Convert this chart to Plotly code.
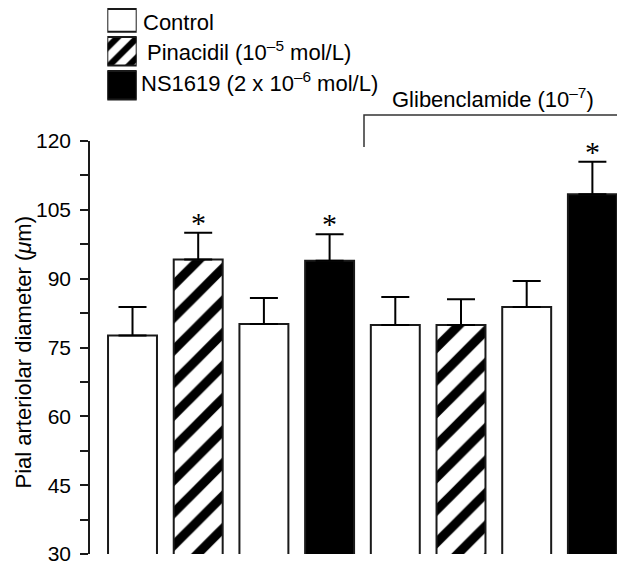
import plotly.graph_objects as go

# values (mean + SEM, um)
treatments = ["Control", "Pinacidil", "Control", "NS1619",
              "Control", "Pinacidil", "Control", "NS1619"]
glibenclamide = [False, False, False, False, True, True, True, True]
diameter_mean = [77.6, 94.2, 80.1, 93.9, 79.9, 79.9, 83.8, 108.4]
diameter_sem = [6.2, 5.8, 5.7, 5.8, 6.1, 5.6, 5.7, 7.1]
significant = [False, True, False, True, False, False, False, True]

legend_keys = ["Control", "Pinacidil", "NS1619"]
legend_labels = ["Control", "Pinacidil (10<sup>–5</sup> mol/L)",
                 "NS1619 (2 x 10<sup>–6</sup> mol/L)"]

y_tickvals = [30, 45, 60, 75, 90, 105, 120]
y_minor_step = 7.5

# style per treatment
fill = {"Control": "white", "Pinacidil": "white", "NS1619": "black"}
hatch = {"Control": "", "Pinacidil": "/", "NS1619": ""}

FONT = "Liberation Sans, Arial, sans-serif"
OFF = 8  # page body margin
W, H = 625 - OFF, 569 - OFF
L, R, T, B = 90 - OFF, 6, 0, 15
PW, PH = W - L - R, H - T - B


# positions given in screen pixels -> paper
def px(x):
    return (x - OFF - L) / PW


def py(y):
    return (H - B - (y - OFF)) / PH


fig = go.Figure()

# one trace per treatment so each gets a plain colour + its hatch
for t in legend_keys:
    sel = [i for i, tt in enumerate(treatments) if tt == t]
    fig.add_trace(go.Bar(
        x=sel, y=[diameter_mean[i] for i in sel], width=0.745, name=t,
        marker=dict(color=fill[t], line=dict(color="#1a1a1a", width=2),
                    pattern=dict(shape=hatch[t], fgcolor="black", bgcolor="white",
                                 fgopacity=1, size=23, solidity=0.4)),
        error_y=dict(type="data", symmetric=False,
                     array=[diameter_sem[i] for i in sel],
                     arrayminus=[0] * len(sel),
                     color="black", thickness=2, width=14),
        showlegend=False,
    ))

# legend key boxes on their own small axes (rows 33.9 px apart)
row_px = 33.9
span = (102.2 - OFF) / row_px
top_row = (OFF + 1 - 17.5) / row_px  # first box is cut by the page edge
for n, k in enumerate(legend_keys):
    w, o = (0.42 - top_row, top_row) if n == 0 else (0.84, -0.42)
    fig.add_trace(go.Bar(
        x=[1], y=[k], orientation="h", width=w, offset=o, base=0,
        xaxis="x2", yaxis="y2", cliponaxis=False,
        marker=dict(color=fill[k], line=dict(color="#1a1a1a", width=2),
                    pattern=dict(shape=hatch[k], fgcolor="black", bgcolor="white",
                                 fgopacity=1, size=14, solidity=0.45)),
        showlegend=False,
    ))

# asterisks
for i, s in enumerate(significant):
    if s:
        fig.add_annotation(x=i, y=diameter_mean[i] + diameter_sem[i], text="*",
                           showarrow=False, yanchor="bottom", yshift=-8,
                           font=dict(family="Liberation Serif, Times New Roman", size=30, color="black"))

# legend text
legend_x = [141, 144.5, 139]
legend_y = [17.5, 51, 82]
for n, (lab, lx, ly) in enumerate(zip(legend_labels, legend_x, legend_y)):
    if n == 0:
        fig.add_annotation(x=px(lx), y=1, xref="paper", yref="paper", text=lab,
                           showarrow=False, xanchor="left", yanchor="top",
                           font=dict(family=FONT, size=22, color="black"))
    else:
        fig.add_annotation(x=px(lx), y=py(ly), xref="paper", yref="paper", text=lab,
                           showarrow=False, xanchor="left", yanchor="middle",
                           font=dict(family=FONT, size=22, color="black"))

# glibenclamide bracket
fig.add_shape(type="path", xref="paper", yref="paper",
              path=f"M {px(364)},{py(147)} L {px(364)},{py(115)} L {px(619)},{py(115)} L {px(619)},{py(147)}",
              line=dict(color="#333333", width=1.5))
fig.add_annotation(x=px(493), y=py(98), xref="paper", yref="paper",
                   text="Glibenclamide (10<sup>–7</sup>)", showarrow=False,
                   xanchor="center", yanchor="middle",
                   font=dict(family=FONT, size=22, color="black"))

# y axis title
fig.add_annotation(x=px(OFF), y=py(353), xref="paper", yref="paper",
                   text="Pial arteriolar diameter (<i>μ</i>m)", textangle=-90,
                   showarrow=False, xanchor="left", yanchor="middle",
                   font=dict(family=FONT, size=22, color="black"))

fig.update_layout(
    width=W, height=H, barmode="overlay",
    margin=dict(l=L, r=R, t=T, b=B, autoexpand=False),
    plot_bgcolor="white", paper_bgcolor="white",
    font=dict(family=FONT, color="black"),
    xaxis=dict(range=[-0.647, 7.405], showticklabels=False, ticks="",
               showgrid=False, zeroline=False, showline=False, automargin=False),
    yaxis=dict(domain=[0, py(141)], range=[30, 120],
               tickvals=y_tickvals,
               ticks="outside", ticklen=8, tickwidth=1.5, tickcolor="#1a1a1a",
               minor=dict(tick0=30, dtick=y_minor_step, ticks="outside", ticklen=8,
                          tickwidth=1.5, tickcolor="#1a1a1a", showgrid=False),
               showline=True, linecolor="#1a1a1a", linewidth=1.5,
               showgrid=False, zeroline=False, automargin=False,
               ticklabelstandoff=5,
               tickfont=dict(size=21, color="black")),
    xaxis2=dict(domain=[px(107.3), px(136.7)], range=[0, 1], anchor="y2",
                visible=False),
    yaxis2=dict(domain=[py(102.2), 1], range=[2.5, 2.5 - span], anchor="x2",
                visible=False),
)

fig.write_html("out.html")
